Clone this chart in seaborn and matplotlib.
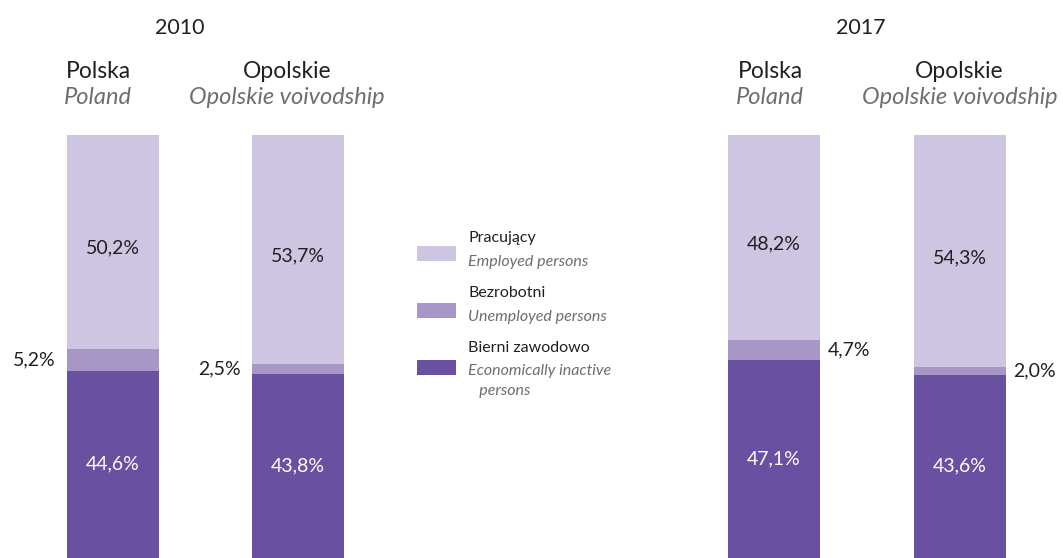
import matplotlib
matplotlib.use("Agg")
import matplotlib.pyplot as plt
import seaborn as sns
import pandas as pd
from matplotlib.patches import Rectangle

sns.set_theme(style="white")
plt.rcParams['font.family'] = ['Lato', 'DejaVu Sans']

# ---- data ----
years = ["2010", "2017"]
regions_pl = ["Polska", "Opolskie"]
regions_en = ["Poland", "Opolskie voivodship"]
employed = {"2010": [50.2, 53.7], "2017": [48.2, 54.3]}
unemployed = {"2010": [5.2, 2.5], "2017": [4.7, 2.0]}
inactive = {"2010": [44.6, 43.8], "2017": [47.1, 43.6]}
unemp_labels = {"2010": ["5,2%", "2,5%"], "2017": ["4,7%", "2,0%"]}
emp_labels = {"2010": ["50,2%", "53,7%"], "2017": ["48,2%", "54,3%"]}
inact_labels = {"2010": ["44,6%", "43,8%"], "2017": ["47,1%", "43,6%"]}
legend_pl = ["Pracujący", "Bezrobotni", "Bierni zawodowo"]
legend_en = ["Employed persons", "Unemployed persons", "Economically inactive\n   persons"]

C_EMP = "#cec5e2"
C_UNE = "#a797c7"
C_INA = "#6a50a0"
TXT = "#231f20"
GRAY = "#6d6e71"

W, H = 1063, 558
fig = plt.figure(figsize=(W / 100, H / 100), dpi=100)

def fx(px):
    return px / W

def fy(py):
    return 1 - py / H

# axes geometry in pixel space: x centers of first bar, spacing
panels = {"2010": (0, 400, 113.0, 185.0), "2017": (663, 1063, 774.0, 185.5)}
year_x = {"2010": 0.36, "2017": 0.47}
bar_w_px = 92.0
y_top_px, y_bot_px = 135.0, 561.0
scale = (y_bot_px - y_top_px) / 100.0

for yr in years:
    l, r, c0, sp = panels[yr]
    ax = fig.add_axes([fx(l), 0, fx(r) - fx(l), 1])
    df = pd.DataFrame({
        "region": regions_pl,
        "total": [a + b + c for a, b, c in zip(employed[yr], unemployed[yr], inactive[yr])],
        "low2": [b + c for b, c in zip(unemployed[yr], inactive[yr])],
        "low1": inactive[yr],
    })
    w = bar_w_px / sp
    sns.barplot(data=df, x="region", y="total", color=C_EMP, width=w, ax=ax,
                saturation=1, linewidth=0)
    sns.barplot(data=df, x="region", y="low2", color=C_UNE, width=w, ax=ax,
                saturation=1, linewidth=0)
    sns.barplot(data=df, x="region", y="low1", color=C_INA, width=w, ax=ax,
                saturation=1, linewidth=0)
    ax.set_xlim((l - c0) / sp, (r - c0) / sp)
    ax.set_ylim((y_bot_px - H) / scale, 100 + y_top_px / scale)
    ax.axis("off")

    for i in range(2):
        e, u, n = employed[yr][i], unemployed[yr][i], inactive[yr][i]
        ax.text(i, n + u + e / 2 - 1.5, emp_labels[yr][i], ha="center", va="center",
                fontsize=14, color=TXT)
        ax.text(i, n / 2 + 0.5, inact_labels[yr][i], ha="center", va="center",
                fontsize=14, color="white")
        um = n + u / 2
        if yr == "2010":
            ax.text(i - w / 2 - 0.06, um, unemp_labels[yr][i], ha="right",
                    va="center", fontsize=14, color=TXT)
        else:
            ax.text(i + w / 2 + 0.04, um, unemp_labels[yr][i], ha="left",
                    va="center", fontsize=14, color=TXT)

    # headers
    ax.text(year_x[yr], 100 + (y_top_px - 28) / scale, yr, ha="center", va="center",
            fontsize=15.5, color=TXT)
    off = [-0.08, -0.06] if yr == "2010" else [-0.02, 0.0]
    for i in range(2):
        ax.text(i + off[i], 100 + (y_top_px - 71) / scale, regions_pl[i],
                ha="center", va="center", fontsize=16.5, color=TXT)
        ax.text(i + off[i], 100 + (y_top_px - 97) / scale, regions_en[i],
                ha="center", va="center", fontsize=17, color=GRAY, style="italic")

# legend
colors = [C_EMP, C_UNE, C_INA]
rect_y = [246, 303, 360]
pl_y = [238, 293, 348]
en_y = [262, 317, 381]
for c, ry, py, ey, tpl, ten in zip(colors, rect_y, pl_y, en_y, legend_pl, legend_en):
    fig.patches.append(Rectangle((fx(417), fy(ry + 15)), fx(39), 15 / H,
                                 transform=fig.transFigure, color=c, lw=0))
    fig.text(fx(468), fy(py), tpl, ha="left", va="center", fontsize=11.5,
             color=TXT)
    fig.text(fx(468), fy(ey), ten, ha="left", va="center", fontsize=11.5,
             color=GRAY, style="italic", linespacing=1.5)

fig.savefig("out.png", dpi=100)
